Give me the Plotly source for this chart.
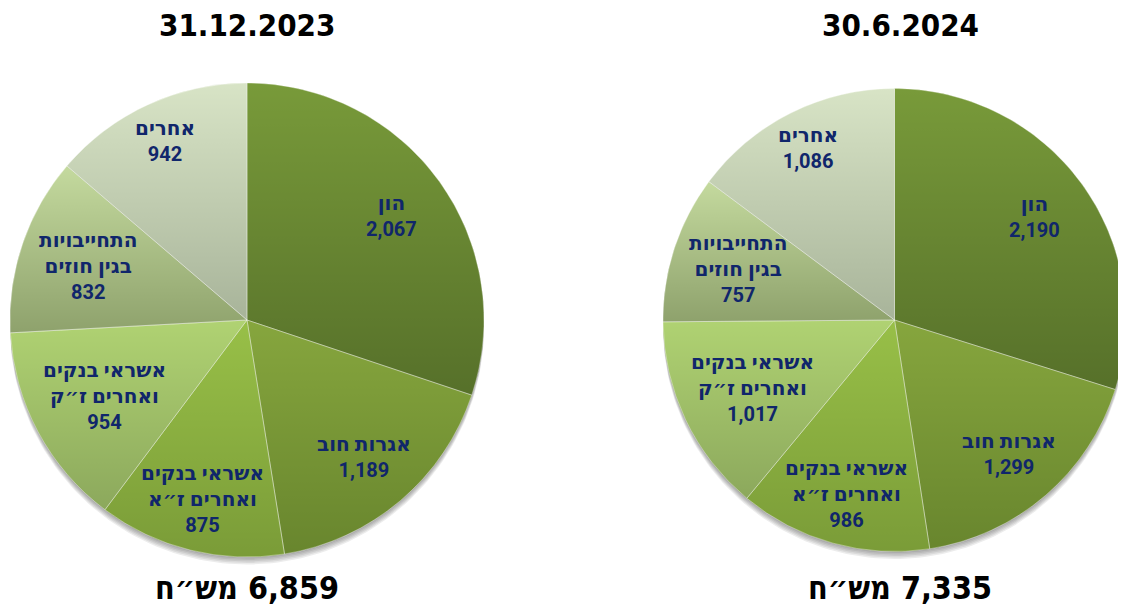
import math
import plotly.graph_objects as go

categories = ["הון", "אגרות חוב", "אשראי בנקים<br>ואחרים ז״א", "אשראי בנקים<br>ואחרים ז״ק",
              "התחייבויות<br>בגין חוזים", "אחרים"]
values_2023 = [2067, 1189, 875, 954, 832, 942]
values_2024 = [2190, 1299, 986, 1017, 757, 1086]
titles = ["31.12.2023", "30.6.2024"]
unit = "מש״ח"

# ---- styling ----
# per-slice vertical shading (top colour, bottom colour) of the reference
shade_top = [(120, 154, 58), (134, 166, 62), (152, 192, 72), (176, 210, 114), (196, 218, 158), (216, 228, 198)]
shade_bot = [(86, 112, 42), (104, 134, 46), (122, 156, 56), (140, 168, 92), (142, 162, 108), (168, 180, 154)]
label_radius = [0.75, 0.76, 0.78, 0.68, 0.71, 0.83]   # fraction of radius for label placement
ALPHA = 0.5

W, H = 1118, 598          # page adds an 8px body margin
TITLE_FONT = "DejaVu Sans Condensed, DejaVu Sans, sans-serif"
LABEL_FONT = "Roboto, DejaVu Sans, sans-serif"
NAVY = "#10266b"
boxes = [(2, 75, 476, 549), (655, 75, W, 549)]   # pie domains in figure pixels


def rgb(c, a=1.0):
    return f"rgba({int(round(c[0]))},{int(round(c[1]))},{int(round(c[2]))},{a})"


def clamp(c):
    return tuple(max(0, min(255, v)) for v in c)


mids = [tuple((t + b) / 2 for t, b in zip(top, bot)) for top, bot in zip(shade_top, shade_bot)]
under_top = [clamp(tuple(2 * t - m for t, m in zip(top, mid))) for top, mid in zip(shade_top, mids)]
under_bot = [clamp(tuple(2 * b - m for b, m in zip(bot, mid))) for bot, mid in zip(shade_bot, mids)]

fig = go.Figure()

for vals, (x0, y0, x1, y1) in zip([values_2023, values_2024], boxes):
    r = min(x1 - x0, y1 - y0) / 2
    cx, cy = (x0 + x1) / 2, H - (y0 + y1) / 2     # y measured upward
    total = sum(vals)

    # soft drop shadow: stacked, slightly offset translucent discs
    n = 240
    for dy in (1.5, 3, 4.5, 6, 7.5):
        sx = [cx + r * math.sin(2 * math.pi * i / n) for i in range(n + 1)]
        sy = [cy - dy + r * math.cos(2 * math.pi * i / n) for i in range(n + 1)]
        fig.add_trace(go.Scatter(
            x=sx, y=sy, mode="lines", line=dict(width=0), fill="toself",
            fillcolor="rgba(0,0,0,0.075)", hoverinfo="skip", showlegend=False))

    # per-slice vertical shading underlay (angles derived from the values)
    cum = 0
    for i, v in enumerate(vals):
        a0 = cum / total * 2 * math.pi
        a1 = (cum + v) / total * 2 * math.pi
        cum += v
        steps = max(2, int((a1 - a0) / (math.pi / 180)))
        xs = [cx] + [cx + r * math.sin(a0 + (a1 - a0) * k / steps) for k in range(steps + 1)] + [cx]
        ys = [cy] + [cy + r * math.cos(a0 + (a1 - a0) * k / steps) for k in range(steps + 1)] + [cy]
        fig.add_trace(go.Scatter(
            x=xs, y=ys, mode="lines", line=dict(width=0), fill="toself",
            fillgradient=dict(type="vertical",
                              colorscale=[[0, rgb(under_bot[i])], [1, rgb(under_top[i])]]),
            hoverinfo="skip", showlegend=False))

    fig.add_trace(go.Pie(
        labels=categories, values=vals,
        domain=dict(x=[x0 / W, x1 / W], y=[(H - y1) / H, (H - y0) / H]),
        sort=False, direction="clockwise", rotation=0,
        marker=dict(colors=[rgb(m, ALPHA) for m in mids],
                    line=dict(color="rgba(255,255,255,0.35)", width=1)),
        textinfo="none", hoverinfo="label+value", showlegend=False,
    ))

    # labels placed along slice mid-angles
    cum = 0
    for cat, v, f in zip(categories, vals, label_radius):
        mid = (cum + v / 2) / total * 2 * math.pi
        cum += v
        px = cx + f * r * math.sin(mid)
        py = cy + f * r * math.cos(mid)
        fig.add_annotation(x=px / W, y=py / H, xref="paper", yref="paper",
                           xanchor="center", yanchor="middle", showarrow=False,
                           text=f"{cat}<br>{v:,}",
                           font=dict(family=LABEL_FONT, size=20, color=NAVY, weight="bold"))

centers = [239, 892]
for title, vals, cx in zip(titles, [values_2023, values_2024], centers):
    fig.add_annotation(x=cx / W, y=1 - 17 / H, xref="paper", yref="paper",
                       xanchor="center", yanchor="middle",
                       text=title, showarrow=False,
                       font=dict(family=TITLE_FONT, size=31, color="black", weight="bold"))
    fig.add_annotation(x=cx / W, y=1 - 580 / H, xref="paper", yref="paper",
                       xanchor="center", yanchor="middle",
                       text=f"{unit}\u200e {sum(vals):,}", showarrow=False,
                       font=dict(family=TITLE_FONT, size=32, color="black", weight="bold"))

fig.update_layout(
    width=W, height=H, margin=dict(l=0, r=0, t=0, b=0),
    paper_bgcolor="white", plot_bgcolor="white",
    xaxis=dict(range=[0, W], visible=False, fixedrange=True, domain=[0, 1]),
    yaxis=dict(range=[0, H], visible=False, fixedrange=True, domain=[0, 1]),
)
fig.write_html("out.html")
